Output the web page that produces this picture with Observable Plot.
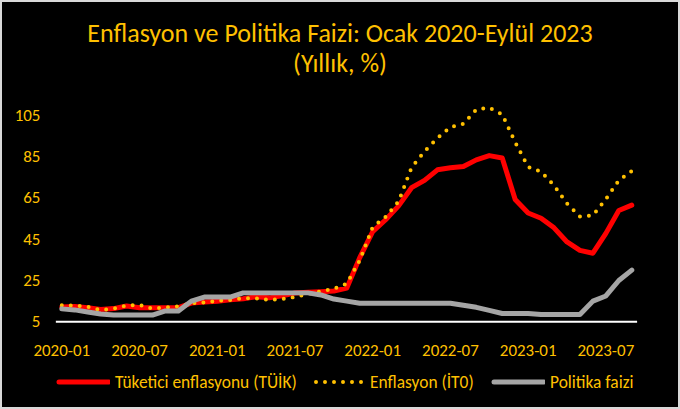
<!DOCTYPE html>
<html>
<head>
<meta charset="utf-8">
<script src="https://cdn.jsdelivr.net/npm/d3@7"></script>
<script src="https://cdn.jsdelivr.net/npm/@observablehq/plot@0.6"></script>
<style>
  html, body { margin: 0; padding: 0; background: #000; }
  #wrap { position: relative; width: 680px; height: 409px; box-sizing: border-box; border: 2px solid #d9d9d9; background: #000; overflow: hidden; font-family: Calibri, Carlito, Lato, sans-serif; }
  #title { text-align: center; color: #FFC000; font-size: 26px; line-height: 30px; padding-top: 16px; height: 60px; }
  #chart { position: absolute; left: -2px; top: 76px; }
  .leg { position: absolute; top: 368px; height: 24px; display: flex; align-items: center; color: #FFC000; font-size: 17.4px; white-space: nowrap; }
  .leg svg { margin-right: 5px; }
</style>
</head>
<body>
<div id="wrap">
  <div id="title">Enflasyon ve Politika Faizi: Ocak 2020-Eylül 2023<br>(Yıllık, %)</div>
  <div id="chart"></div>
  <div class="leg" id="leg1" style="left:52px"></div>
  <div class="leg" id="leg2" style="left:307px"></div>
  <div class="leg" id="leg3" style="left:487px"></div>
</div>
<script>
const months = [
  "2020-01","2020-02","2020-03","2020-04","2020-05","2020-06","2020-07","2020-08","2020-09","2020-10","2020-11","2020-12",
  "2021-01","2021-02","2021-03","2021-04","2021-05","2021-06","2021-07","2021-08","2021-09","2021-10","2021-11","2021-12",
  "2022-01","2022-02","2022-03","2022-04","2022-05","2022-06","2022-07","2022-08","2022-09","2022-10","2022-11","2022-12",
  "2023-01","2023-02","2023-03","2023-04","2023-05","2023-06","2023-07","2023-08","2023-09"
];
const tuik = [
  12.15, 12.37, 11.86, 10.94, 11.39, 12.62, 11.76, 11.77, 11.75, 11.89, 14.03, 14.60,
  14.97, 15.61, 16.19, 17.14, 16.59, 17.53, 18.95, 19.25, 19.58, 19.89, 21.31, 36.08,
  48.69, 54.44, 61.14, 69.97, 73.50, 78.62, 79.60, 80.21, 83.45, 85.51, 84.39, 64.27,
  57.68, 55.18, 50.51, 43.68, 39.59, 38.21, 47.83, 58.94, 61.53
];
const ito = [
  13.0, 12.8, 12.3, 10.7, 11.4, 12.9, 13.2, 11.4, 12.0, 12.4, 14.0, 14.3,
  15.2, 15.6, 16.4, 16.3, 15.6, 16.0, 17.0, 18.5, 19.8, 21.0, 23.5, 34.7,
  50.9, 55.8, 63.3, 79.7, 87.5, 94.0, 99.3, 100.9, 107.8, 108.7, 105.5, 92.0,
  80.0, 77.7, 71.0, 62.3, 56.0, 56.5, 64.4, 73.5, 78.0
];
const policy = [
  11.25, 10.75, 9.75, 8.75, 8.25, 8.25, 8.25, 8.25, 10.25, 10.25, 15.00, 17.00,
  17, 17, 19, 19, 19, 19, 19, 19, 18, 16, 15, 14,
  14, 14, 14, 14, 14, 14, 14, 13, 12, 10.5, 9, 9,
  9, 8.5, 8.5, 8.5, 8.5, 15, 17.5, 25, 30
];
const xTickLabels = ["2020-01","2020-07","2021-01","2021-07","2022-01","2022-07","2023-01","2023-07"];
const yTicks = [5, 25, 45, 65, 85, 105];
const seriesNames = ["Tüketici enflasyonu (TÜİK)", "Enflasyon (İT0)", "Politika faizi"];

const gold = "#FFC000", red = "#FF0000", gray = "#A5A5A5";
const font = "Calibri, Carlito, Lato, sans-serif";

const rows = months.map((m, i) => ({i, month: m, tuik: tuik[i], ito: ito[i], policy: policy[i]}));
const xTicks = xTickLabels.map(l => months.indexOf(l));

const chart = Plot.plot({
  width: 680,
  height: 287,
  marginLeft: 56,
  marginRight: 41,
  marginTop: 37,
  marginBottom: 43,
  style: {background: "#000", color: gold, fontFamily: font, fontSize: "17px", overflow: "visible"},
  x: {domain: [-0.42, 44.45], axis: null},
  y: {domain: [5, 105], axis: null},
  marks: [
    Plot.axisY({ticks: yTicks, tickSize: 0, tickPadding: 16, fill: gold, fontSize: 17, label: null}),
    Plot.axisX({ticks: xTicks, tickFormat: i => months[i], tickSize: 0, tickPadding: 22, fill: gold, fontSize: 17, label: null}),
    Plot.ruleY([5], {stroke: "#ffffff", strokeWidth: 2}),
    Plot.line(rows, {x: "i", y: "tuik", stroke: red, strokeWidth: 5, strokeLinejoin: "round"}),
    Plot.line(rows, {x: "i", y: "ito", stroke: gold, strokeWidth: 4, strokeDasharray: "0 9", strokeLinecap: "round"}),
    Plot.line(rows, {x: "i", y: "policy", stroke: gray, strokeWidth: 5, strokeLinejoin: "round"})
  ]
});
document.getElementById("chart").appendChild(chart);

function swatch(kind) {
  const ns = "http://www.w3.org/2000/svg";
  const s = document.createElementNS(ns, "svg");
  s.setAttribute("width", 56); s.setAttribute("height", 12);
  const l = document.createElementNS(ns, "line");
  l.setAttribute("x1", 5); l.setAttribute("x2", 55); l.setAttribute("y1", 6); l.setAttribute("y2", 6);
  l.setAttribute("stroke-linecap", "round");
  if (kind === 0) { l.setAttribute("stroke", red); l.setAttribute("stroke-width", 5); }
  if (kind === 1) { l.setAttribute("stroke", gold); l.setAttribute("stroke-width", 4); l.setAttribute("stroke-dasharray", "0 9"); l.setAttribute("x1", 7); l.setAttribute("x2", 53); }
  if (kind === 2) { l.setAttribute("stroke", gray); l.setAttribute("stroke-width", 5); }
  s.appendChild(l);
  return s;
}
["leg1","leg2","leg3"].forEach((id, k) => {
  const el = document.getElementById(id);
  el.appendChild(swatch(k));
  const t = document.createElement("span");
  t.textContent = seriesNames[k];
  el.appendChild(t);
});
</script>
</body>
</html>
